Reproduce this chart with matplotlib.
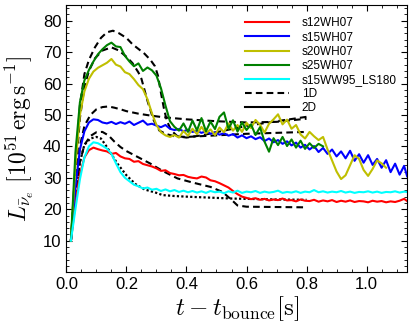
import matplotlib
matplotlib.use("Agg")
import matplotlib.pyplot as plt
from matplotlib.ticker import AutoMinorLocator, MultipleLocator
from matplotlib.lines import Line2D

plt.rcParams["font.family"] = ["Liberation Sans", "DejaVu Sans"]
plt.rcParams["mathtext.fontset"] = "cm"

# time grid of the 2D runs [s]
t_2d = [0.015, 0.03, 0.045, 0.06, 0.075, 0.09, 0.105, 0.12, 0.135, 0.15,
        0.165, 0.18, 0.195, 0.21, 0.225, 0.24, 0.255, 0.27, 0.285, 0.3,
        0.315, 0.33, 0.345, 0.36, 0.375, 0.39, 0.405, 0.42, 0.435, 0.45,
        0.465, 0.48, 0.495, 0.51, 0.525, 0.54, 0.555, 0.57, 0.585, 0.6,
        0.615, 0.63, 0.645, 0.66, 0.675, 0.69, 0.705, 0.72, 0.735, 0.75,
        0.765, 0.78, 0.795, 0.81, 0.825, 0.84, 0.855, 0.87, 0.885, 0.9,
        0.915, 0.93, 0.945, 0.96, 0.975, 0.99, 1.005, 1.02, 1.035, 1.05,
        1.065, 1.08, 1.095, 1.11, 1.125, 1.135]

# 2D luminosities [1e51 erg/s]
L_s12 = [10, 22, 31, 36.5, 38.8, 39.6, 39.1, 38.7, 38.4, 37.6,
         37.9, 36.8, 36.2, 36.0, 35.1, 35.3, 34.4, 34.0, 33.6, 33.0,
         32.2, 32.4, 31.5, 31.2, 30.8, 30.9, 30.3, 30.0, 29.8, 30.4,
         30.1, 29.2, 28.9, 28.3, 27.6, 26.9, 25.8, 24.8, 24.0, 23.6,
         23.2, 23.5, 23.0, 23.3, 22.8, 23.1, 22.9, 23.4, 22.8, 22.9,
         22.5, 23.1, 22.7, 22.6, 23.0, 22.4, 22.8, 22.5, 22.9, 22.3,
         22.7, 22.4, 22.8, 22.3, 22.6, 22.5, 22.2, 22.7, 22.4, 22.6,
         22.2, 22.5, 22.3, 22.7, 23.3, 22.6]
L_s15 = [10, 27, 39, 44.8, 47.6, 48.6, 48.4, 47.6, 47.3, 47.8,
         47.1, 47.7, 47.2, 47.9, 46.8, 47.5, 48.2, 46.9, 47.2, 46.6,
         46.1, 46.8, 45.6, 45.2, 45.5, 44.8, 45.3, 44.6, 44.9, 44.3,
         44.8, 44.0, 44.5, 43.7, 44.2, 43.4, 43.9, 42.8, 43.5, 42.6,
         43.2, 42.3, 42.9, 41.7, 42.5, 41.3, 42.0, 40.8, 41.6, 40.3,
         41.2, 39.6, 40.5, 39.0, 40.1, 38.2, 39.5, 37.6, 39.0, 36.8,
         38.4, 36.2, 38.6, 35.4, 37.5, 34.8, 37.2, 34.1, 36.0, 33.2,
         35.6, 31.8, 34.5, 31.0, 33.8, 30.5]
L_s20 = [10, 34, 50, 57.5, 61.5, 63.8, 65.0, 65.8, 66.6, 67.8,
         66.0, 65.4, 63.6, 63.0, 61.4, 59.5, 58.2, 55.0, 50.5, 46.8,
         44.5, 43.5, 43.0, 43.6, 42.8, 44.9, 43.4, 45.6, 43.9, 46.2,
         44.1, 45.4, 43.6, 46.0, 44.5, 47.3, 45.0, 46.8, 44.6, 47.5,
         45.8, 48.4, 46.9, 44.4, 47.2, 48.6, 50.2, 47.0, 48.5, 45.6,
         46.8, 43.8, 42.5, 44.6, 43.2, 42.0, 43.0, 39.0, 35.5, 32.0,
         29.6, 30.8, 34.0, 37.2, 36.0, 32.5, 30.6, 32.8, 35.5, 34.6,
         33.2]
L_s25 = [10, 38, 54, 61.0, 64.3, 67.0, 69.3, 70.9, 72.2, 73.0,
         71.8, 71.6, 68.8, 67.0, 65.5, 66.4, 64.0, 65.1, 64.2, 62.5,
         58.5, 53.0, 48.0, 46.2, 45.0, 47.3, 44.6, 48.2, 45.1, 49.0,
         44.8, 47.9, 45.5, 49.4, 50.8, 45.6, 48.3, 44.7, 47.6, 45.2,
         47.0, 43.6, 46.1, 41.5, 38.3, 42.6, 40.4, 43.0, 40.1, 42.2,
         39.6, 41.8, 39.2, 41.0, 39.5, 40.8, 40.0]
L_ww95 = [10, 20, 29.5, 36.5, 40.0, 41.3, 41.0, 40.2, 39.3, 37.6,
          34.6, 31.8, 30.0, 28.9, 27.8, 27.3, 26.6, 26.9, 26.2, 26.5,
          25.8, 26.3, 25.7, 26.1, 25.5, 25.9, 25.4, 25.8, 25.3, 25.7,
          25.2, 25.8, 25.4, 25.6, 25.1, 25.7, 25.3, 25.9, 25.2, 25.6,
          25.4, 25.8, 25.2, 25.6, 25.3, 25.5, 25.9, 25.2, 25.5, 25.3,
          25.7, 25.2, 25.6, 25.4, 26.1, 25.4, 25.7, 25.3, 25.6, 25.4,
          25.8, 25.3, 25.6, 25.2, 25.5, 25.4, 25.7, 25.3, 25.6, 25.2,
          25.5, 25.4, 25.7, 25.3, 25.6, 25.5]

# 1D runs
t1_s12 = [0.015, 0.03, 0.045, 0.06, 0.08, 0.1, 0.12, 0.14, 0.16, 0.18, 0.2,
          0.24, 0.28, 0.32, 0.37, 0.42, 0.48, 0.52, 0.55, 0.57, 0.6, 0.7, 0.8]
L1_s12 = [10, 24, 35, 40.5, 43.3, 44.5, 44.6, 43.5, 41.5, 39.8, 38.5,
          36.5, 34.5, 32.2, 29.8, 28.5, 27.1, 25.5, 23.0, 21.2, 20.8, 20.7, 20.6]
t1_s15 = [0.015, 0.03, 0.045, 0.06, 0.08, 0.1, 0.12, 0.14, 0.16, 0.18, 0.2,
          0.24, 0.28, 0.32, 0.4, 0.5, 0.6, 0.7, 0.8]
L1_s15 = [10, 27, 40, 46.5, 50.0, 51.8, 52.5, 52.7, 52.3, 51.8, 51.2,
          50.4, 49.8, 49.3, 48.6, 48.0, 47.6, 47.8, 48.8]
t1_s20 = [0.015, 0.03, 0.045, 0.06, 0.075, 0.095, 0.12, 0.15, 0.175, 0.2,
          0.22, 0.24, 0.25, 0.26, 0.27, 0.28, 0.29, 0.3, 0.31, 0.33, 0.36,
          0.4, 0.5, 0.6, 0.7, 0.8]
L1_s20 = [10, 30, 49, 59, 64, 68, 70.5, 71.5, 70.5, 68.5, 66.5, 63.5,
          61.5, 58, 54.5, 51.5, 48.5, 46.5, 45, 44, 43.2, 43, 43.5, 44,
          44.3, 44.6]
t1_s25 = [0.015, 0.03, 0.045, 0.06, 0.075, 0.095, 0.115, 0.135, 0.155,
          0.175, 0.2, 0.22, 0.24, 0.26, 0.28, 0.295, 0.305, 0.315, 0.325,
          0.335, 0.35, 0.37, 0.4, 0.45, 0.5, 0.6, 0.7, 0.8]
L1_s25 = [10, 33, 53, 63, 67.5, 71.5, 74.5, 76.3, 76.8, 76.0, 74.5, 72.5,
          71.0, 69.5, 67.5, 65.5, 62.5, 57, 52, 48, 45, 43.2, 42.8, 43.5,
          44.5, 46.5, 48.0, 49.4]
t1_ww95 = [0.015, 0.03, 0.045, 0.06, 0.08, 0.1, 0.115, 0.13, 0.15, 0.17,
           0.2, 0.23, 0.26, 0.3, 0.32, 0.36, 0.4, 0.45, 0.5, 0.55, 0.6,
           0.7, 0.8]
L1_ww95 = [10, 24, 35, 40.5, 42.5, 43.0, 42.5, 40.5, 37.5, 34.5, 30.8,
           28.0, 26.3, 25.2, 24.5, 24.2, 24.0, 23.8, 23.6, 23.4, 23.3,
           23.1, 23.0]

fig = plt.figure(figsize=(4.15, 3.29), dpi=100)
ax = fig.add_axes([0.160, 0.173, 0.821, 0.812])

dash = (3.2, 2.0)
ax.plot(t1_s12, L1_s12, color="k", lw=1.5, dashes=dash)
ax.plot(t1_s15, L1_s15, color="k", lw=1.5, dashes=dash)
ax.plot(t1_s20, L1_s20, color="k", lw=1.5, dashes=dash)
ax.plot(t1_s25, L1_s25, color="k", lw=1.5, dashes=dash)
ax.plot(t1_ww95, L1_ww95, color="k", lw=1.6, dashes=(1.0, 1.0))

ax.plot(t_2d[:len(L_s12)], L_s12, color="red", lw=1.5)
ax.plot(t_2d[:len(L_s15)], L_s15, color="blue", lw=1.5)
ax.plot(t_2d[:len(L_s20)], L_s20, color="#bfbf00", lw=1.5)
ax.plot(t_2d[:len(L_s25)], L_s25, color="green", lw=1.5)
ax.plot(t_2d[:len(L_ww95)], L_ww95, color="cyan", lw=1.5)

ax.set_xlim(0.0, 1.135)
ax.set_ylim(0, 85)
ax.xaxis.set_major_locator(MultipleLocator(0.2))
ax.xaxis.set_minor_locator(AutoMinorLocator())
ax.yaxis.set_minor_locator(AutoMinorLocator())
ax.set_yticks([10, 20, 30, 40, 50, 60, 70, 80])
ax.tick_params(which="both", direction="in", top=True, right=True, labelsize=12)
ax.tick_params(which="major", length=4)
ax.tick_params(which="minor", length=2)

ax.set_xlabel(r"$t-t_{\mathrm{bounce}}[\mathrm{s}]$", fontsize=18, labelpad=2)
ax.set_ylabel(r"$L_{\bar{\nu}_e}\ [10^{51}\,\mathrm{erg\,s^{-1}}]$", fontsize=17, labelpad=5)

handles = [Line2D([], [], color="red", lw=1.5),
           Line2D([], [], color="blue", lw=1.5),
           Line2D([], [], color="#bfbf00", lw=1.5),
           Line2D([], [], color="green", lw=1.5),
           Line2D([], [], color="cyan", lw=1.5),
           Line2D([], [], color="k", lw=1.5, dashes=dash),
           Line2D([], [], color="k", lw=1.5)]
labels = ["s12WH07", "s15WH07", "s20WH07", "s25WH07", "s15WW95_LS180", "1D", "2D"]
fig.legend(handles, labels, loc="upper left", bbox_to_anchor=(245 / 415, 1 - 17.5 / 329),
           frameon=False, fontsize=8.5, handlelength=3.7, handletextpad=1.1,
           labelspacing=0.18, borderpad=0, borderaxespad=0)

fig.savefig("out.png", dpi=100)
